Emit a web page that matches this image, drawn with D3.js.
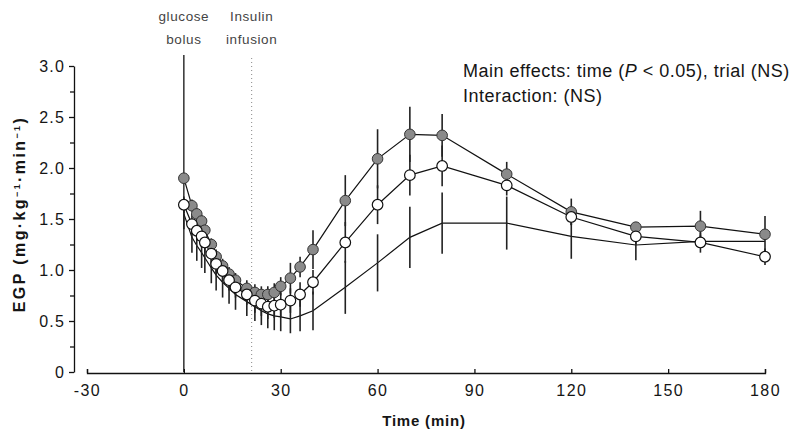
<!DOCTYPE html>
<html>
<head>
<meta charset="utf-8">
<script src="https://cdn.jsdelivr.net/npm/d3@7"></script>
<style>
  body { margin: 0; background: #fff; }
  text { font-family: "Liberation Sans", Arial, sans-serif; fill: #151515; }
</style>
</head>
<body>
<div id="container"></div>
<script>
let w = 797;
let h = 436;

// sampling times (min)
let times = [0, 2.5, 4, 5.5, 6.5, 8.5, 10, 12, 14, 16, 19.5, 22, 24, 26, 28, 30, 33, 36, 40, 50, 60, 70, 80, 100, 120, 140, 160, 180];

// filled circles
let filledMean = [1.90, 1.63, 1.55, 1.48, 1.39, 1.25, 1.13, 1.04, 0.96, 0.90, 0.82, 0.78, 0.76, 0.76, 0.78, 0.84, 0.92, 1.03, 1.20, 1.68, 2.09, 2.33, 2.32, 1.94, 1.57, 1.42, 1.43, 1.35];
let filledSE   = [0.05, 0.06, 0.06, 0.06, 0.06, 0.06, 0.07, 0.07, 0.07, 0.07, 0.08, 0.08, 0.08, 0.08, 0.09, 0.09, 0.15, 0.10, 0.19, 0.25, 0.29, 0.27, 0.21, 0.12, 0.13, 0.05, 0.15, 0.18];

// open circles
let openMean = [1.64, 1.45, 1.385, 1.33, 1.27, 1.16, 1.06, 0.99, 0.90, 0.83, 0.76, 0.70, 0.67, 0.64, 0.65, 0.66, 0.70, 0.76, 0.88, 1.27, 1.64, 1.93, 2.02, 1.83, 1.52, 1.33, 1.27, 1.13];
let openSE   = [0.08, 0.10, 0.10, 0.10, 0.10, 0.10, 0.10, 0.10, 0.10, 0.10, 0.10, 0.12, 0.12, 0.12, 0.12, 0.12, 0.12, 0.12, 0.12, 0.20, 0.19, 0.20, 0.20, 0.10, 0.08, 0.08, 0.10, 0.08];

// plain line, no markers
let lineMean = [1.55, 1.32, 1.24, 1.17, 1.12, 1.02, 0.95, 0.88, 0.82, 0.76, 0.69, 0.64, 0.60, 0.57, 0.55, 0.54, 0.52, 0.55, 0.60, 0.83, 1.07, 1.32, 1.46, 1.46, 1.33, 1.245, 1.28, 1.28];
let lineSE   = [0.15, 0.15, 0.15, 0.15, 0.15, 0.15, 0.15, 0.15, 0.15, 0.15, 0.14, 0.14, 0.14, 0.14, 0.14, 0.14, 0.14, 0.15, 0.19, 0.26, 0.28, 0.30, 0.30, 0.26, 0.22, 0.15, 0.06, 0.00];

let xTicks = [-30, 0, 30, 60, 90, 120, 150, 180];
let yTicks = [0, 0.5, 1.0, 1.5, 2.0, 2.5, 3.0];
let yMinor = [0.25, 0.75, 1.25, 1.75, 2.25, 2.75];

let bolusTime = 0;
let insulinTime = 21;

let viz = d3.select("#container")
  .append("svg")
    .attr("width", w)
    .attr("height", h)
    .style("background-color", "white");

let xScale = d3.scaleLinear().domain([-30, 180]).range([87, 765]);
let yScale = d3.scaleLinear().domain([0, 3]).range([372, 66]);

// y axis, ticks outside
let yAxis = d3.axisLeft(yScale)
  .tickValues(yTicks)
  .tickFormat(d => d == 0 ? "0" : d3.format(".1f")(d))
  .tickSize(5)
  .tickSizeOuter(0)
  .tickPadding(4);
let yAxisG = viz.append("g").attr("transform", "translate(74,0)").call(yAxis);
yAxisG.selectAll("text").style("font-size", "16px").style("letter-spacing", "1.2px");

let yMinorAxis = d3.axisLeft(yScale).tickValues(yMinor).tickFormat("").tickSize(4).tickSizeOuter(0);
viz.append("g").attr("transform", "translate(74,0)").call(yMinorAxis)
  .select(".domain").remove();

// x axis, ticks inside
let xAxis = d3.axisBottom(xScale)
  .tickValues(xTicks)
  .tickFormat(d => String(d))
  .tickSize(-4)
  .tickSizeOuter(-4)
  .tickPadding(12);
let xAxisG = viz.append("g").attr("transform", "translate(0,373)").call(xAxis);
xAxisG.selectAll("text").style("font-size", "16px").style("letter-spacing", "1.4px");

viz.selectAll(".domain, .tick line").attr("stroke", "#111").attr("stroke-width", 1.3);

// glucose bolus and insulin infusion markers
viz.append("line")
  .attr("x1", xScale(bolusTime)).attr("x2", xScale(bolusTime))
  .attr("y1", 55).attr("y2", yScale(0))
  .attr("stroke", "#111").attr("stroke-width", 1.3);
viz.append("line")
  .attr("x1", xScale(insulinTime)).attr("x2", xScale(insulinTime))
  .attr("y1", 58).attr("y2", yScale(0))
  .attr("stroke", "#888").attr("stroke-width", 1)
  .attr("stroke-dasharray", "1,3");

let noteG = viz.append("g").style("font-size", "13.5px").style("letter-spacing", "0.6px").attr("text-anchor", "middle");
noteG.append("text").attr("x", xScale(bolusTime)).attr("y", 21).text("glucose").style("fill", "#444");
noteG.append("text").attr("x", xScale(bolusTime)).attr("y", 44).text("bolus").style("fill", "#444");
noteG.append("text").attr("x", xScale(insulinTime)).attr("y", 21).text("Insulin").style("fill", "#444");
noteG.append("text").attr("x", xScale(insulinTime)).attr("y", 44).text("infusion").style("fill", "#444");

// series
let series = [
  {name: "line", mean: lineMean, se: lineSE},
  {name: "filled", mean: filledMean, se: filledSE},
  {name: "open", mean: openMean, se: openSE}
];

let lineMaker = d3.line()
  .x(d => xScale(d.t))
  .y(d => yScale(d.m));

series.forEach(function(s){
  let pts = times.map((t, i) => ({t: t, m: s.mean[i], se: s.se[i]}));
  s.pts = pts;
  viz.append("path")
    .datum(pts)
    .attr("d", lineMaker)
    .attr("fill", "none")
    .attr("stroke", "#111")
    .attr("stroke-width", 1.2);
  viz.append("g").selectAll("line")
    .data(pts.filter(d => d.se > 0))
    .enter()
    .append("line")
      .attr("x1", d => xScale(d.t))
      .attr("x2", d => xScale(d.t))
      .attr("y1", d => yScale(d.m + d.se))
      .attr("y2", d => yScale(d.m - d.se))
      .attr("stroke", "#222")
      .attr("stroke-width", 1.6);
});

viz.append("g").selectAll("circle")
  .data(series[1].pts)
  .enter()
  .append("circle")
    .attr("cx", d => xScale(d.t))
    .attr("cy", d => yScale(d.m))
    .attr("r", 5.3)
    .attr("fill", "#8a8a8a")
    .attr("stroke", "#333")
    .attr("stroke-width", 1);

viz.append("g").selectAll("circle")
  .data(series[2].pts)
  .enter()
  .append("circle")
    .attr("cx", d => xScale(d.t))
    .attr("cy", d => yScale(d.m))
    .attr("r", 5.3)
    .attr("fill", "white")
    .attr("stroke", "#111")
    .attr("stroke-width", 1.2);

// stats note
let stat = viz.append("g").style("font-size", "18px").style("letter-spacing", "0.5px");
let l1 = stat.append("text").attr("x", 463).attr("y", 77);
l1.append("tspan").text("Main effects: time (");
l1.append("tspan").style("font-style", "italic").text("P");
l1.append("tspan").text(" < 0.05), trial (NS)");
stat.append("text").attr("x", 463).attr("y", 102).text("Interaction: (NS)");

// axis titles
viz.append("text")
  .attr("x", 424).attr("y", 426)
  .attr("text-anchor", "middle")
  .style("font-size", "15px").style("font-weight", "bold").style("letter-spacing", "0.8px")
  .text("Time (min)");

let yLab = viz.append("text")
  .attr("transform", "translate(25,214) rotate(-90)")
  .attr("text-anchor", "middle")
  .style("font-size", "16px").style("font-weight", "bold").style("letter-spacing", "2.4px");
yLab.append("tspan").text("EGP (mg\u00b7kg");
yLab.append("tspan").attr("baseline-shift", "super").style("font-size", "9px").text("\u22121");
yLab.append("tspan").text("\u00b7min");
yLab.append("tspan").attr("baseline-shift", "super").style("font-size", "9px").text("\u22121");
yLab.append("tspan").text(")");
</script>
</body>
</html>
